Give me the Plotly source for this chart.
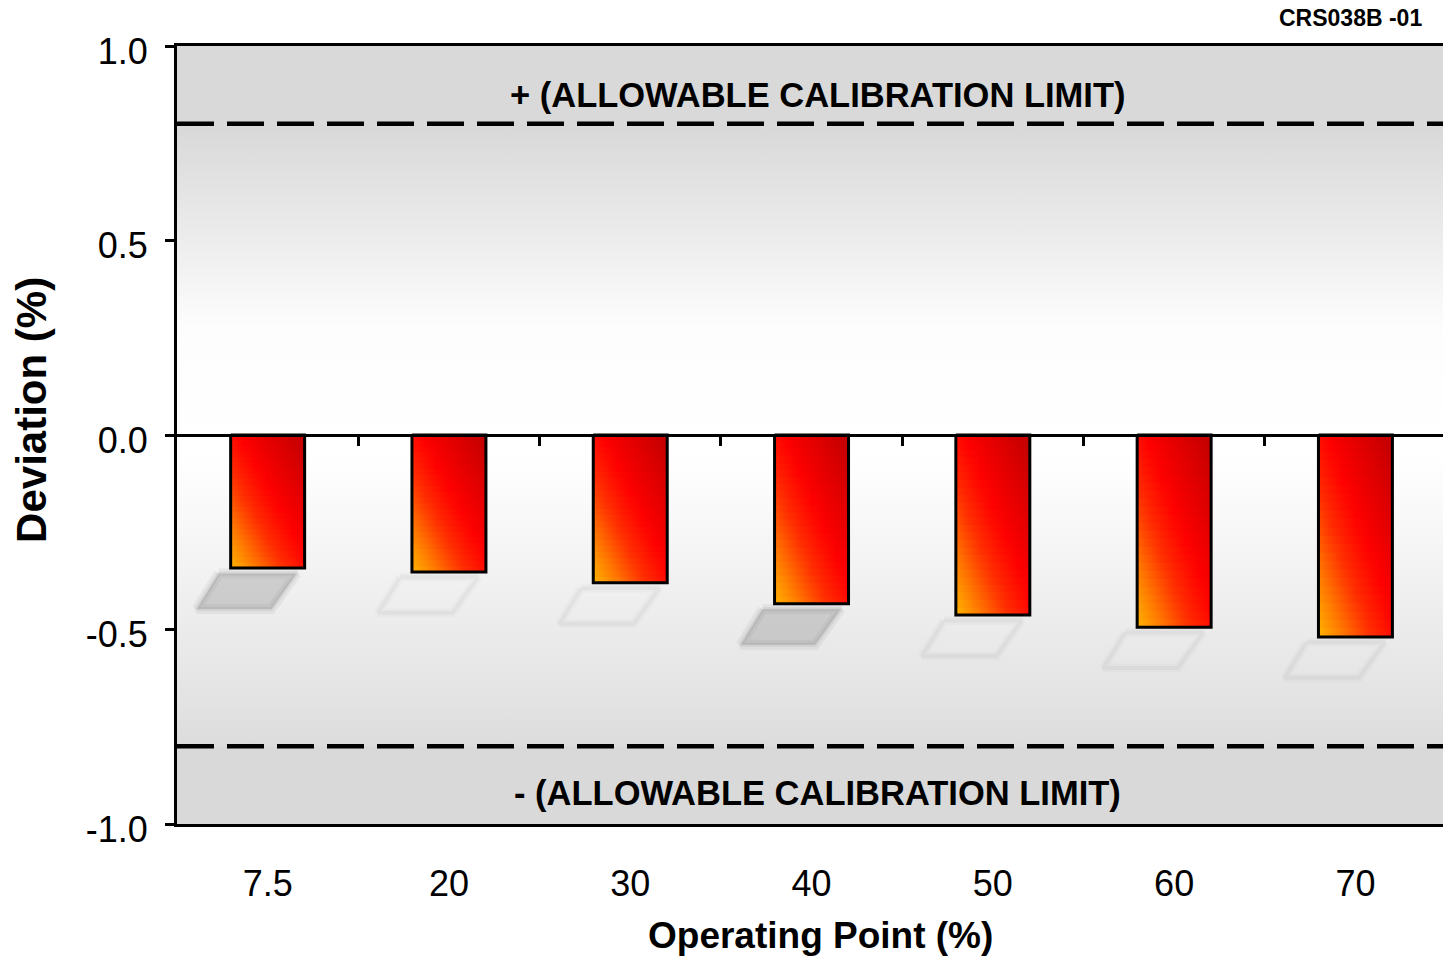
import numpy as np
import plotly.graph_objects as go

# ---------------- data ----------------
categories = ["7.5", "20", "30", "40", "50", "60", "70"]
deviation = [-0.342, -0.352, -0.380, -0.434, -0.463, -0.494, -0.519]
upper_limit = 0.8
lower_limit = -0.8
y_ticks = [-1.0, -0.5, 0.0, 0.5, 1.0]
upper_label = "+ (ALLOWABLE CALIBRATION LIMIT)"
lower_label = "- (ALLOWABLE CALIBRATION LIMIT)"
x_title = "Operating Point (%)"
y_title = "Deviation (%)"
doc_id = "CRS038B -01"

# ---------------- style ----------------
FONT = "Liberation Sans, Arial, Helvetica, sans-serif"
BAR_HALF = 0.204
N_STRIPS = 24
X_RANGE = [-0.5, 6.483]
filled_shadow = {0, 3}

grad_stops = [(0.0, (255, 180, 0)), (0.15, (255, 128, 0)), (0.35, (255, 48, 0)),
              (0.55, (255, 0, 0)), (1.0, (192, 0, 0))]


def grad_color(u):
    u = min(max(u, 0.0), 1.0)
    for (p0, c0), (p1, c1) in zip(grad_stops[:-1], grad_stops[1:]):
        if p0 <= u <= p1:
            f = (u - p0) / (p1 - p0) if p1 > p0 else 0
            c = [round(a + (b - a) * f) for a, b in zip(c0, c1)]
            return f"rgb({c[0]},{c[1]},{c[2]})"
    c = grad_stops[-1][1]
    return f"rgb({c[0]},{c[1]},{c[2]})"


xpos = np.arange(len(categories))
fig = go.Figure()

# background gradient band between the limits
fig.add_trace(go.Scatter(
    x=[X_RANGE[0] - 1, X_RANGE[1] + 1, X_RANGE[1] + 1, X_RANGE[0] - 1, X_RANGE[0] - 1],
    y=[lower_limit, lower_limit, upper_limit, upper_limit, lower_limit],
    mode="lines", line=dict(width=0), fill="toself",
    fillgradient=dict(type="vertical", start=lower_limit, stop=upper_limit,
                      colorscale=[[0.0, "#dcdcdc"], [0.075, "#e3e3e3"], [0.24, "#efefef"],
                                  [0.36, "#f8f8f8"], [0.47, "#ffffff"], [0.67, "#fdfdfd"],
                                  [0.8, "#eeeeee"], [1.0, "#d8d8d8"]]),
    hoverinfo="skip", showlegend=False))

# soft shadows (layered to fake a blur)
for i, (c, v) in enumerate(zip(xpos, deviation)):
    ty, by = v - 0.014, v - 0.105
    sx = [c - 0.27, c + 0.16, c + 0.02, c - 0.39, c - 0.27]
    sy = [ty, ty, by, by, ty]
    if i in filled_shadow:
        fig.add_trace(go.Scatter(x=sx, y=sy, mode="lines",
                                 line=dict(width=10, color="rgba(130,130,130,0.10)"),
                                 hoverinfo="skip", showlegend=False))
        fig.add_trace(go.Scatter(x=sx, y=sy, mode="lines", fill="toself",
                                 fillcolor="rgba(130,130,130,0.32)",
                                 line=dict(width=4, color="rgba(130,130,130,0.15)"),
                                 hoverinfo="skip", showlegend=False))
    else:
        fig.add_trace(go.Scatter(x=sx, y=sy, mode="lines",
                                 line=dict(width=9, color="rgba(0,0,0,0.02)"),
                                 hoverinfo="skip", showlegend=False))
        fig.add_trace(go.Scatter(x=sx, y=sy, mode="lines",
                                 line=dict(width=4, color="rgba(0,0,0,0.03)"),
                                 hoverinfo="skip", showlegend=False))

# bars: diagonal gradient built from horizontal-gradient strips
for c, v in zip(xpos, deviation):
    h = -v
    for k in range(N_STRIPS):
        y0 = v + h * k / N_STRIPS
        y1 = v + h * (k + 1) / N_STRIPS
        if k < N_STRIPS - 1:
            y1 += h * 0.3 / N_STRIPS
        t = (k + 0.5) / N_STRIPS
        cs = [[s, grad_color((s + t) / 2)] for s in np.linspace(0, 1, 7)]
        fig.add_trace(go.Scatter(
            x=[c - BAR_HALF, c + BAR_HALF, c + BAR_HALF, c - BAR_HALF, c - BAR_HALF],
            y=[y0, y0, y1, y1, y0], mode="lines", line=dict(width=0),
            fill="toself", fillgradient=dict(type="horizontal", colorscale=cs),
            hoverinfo="skip", showlegend=False))

# bar outlines (on the overlaid zero-line axis)
for c, v, lab in zip(xpos, deviation, categories):
    fig.add_trace(go.Scatter(
        x=[c - BAR_HALF, c - BAR_HALF, c + BAR_HALF, c + BAR_HALF, c - BAR_HALF],
        y=[0, v, v, 0, 0], mode="lines", line=dict(color="black", width=3),
        xaxis="x2", name=lab, hovertemplate=f"{lab}%: {v:.2f}<extra></extra>",
        showlegend=False))

# limit lines
for yl in (upper_limit, lower_limit):
    fig.add_shape(type="line", xref="paper", x0=0, x1=1, yref="y", y0=yl, y1=yl,
                  line=dict(color="black", width=4.5, dash="37px,13px"))

ann_font = dict(family=FONT, color="black")
fig.add_annotation(text=f"<b>{upper_label}</b>", xref="paper", x=0.506, yref="y", y=0.874,
                   showarrow=False, font=dict(size=34.5, **ann_font), xanchor="center", yanchor="middle")
fig.add_annotation(text=f"<b>{lower_label}</b>", xref="paper", x=0.506, yref="y", y=-0.921,
                   showarrow=False, font=dict(size=34.5, **ann_font), xanchor="center", yanchor="middle")
fig.add_annotation(text=f"<b>{x_title}</b>", xref="paper", x=0.508, yref="paper", y=-0.143,
                   showarrow=False, font=dict(size=37, **ann_font), xanchor="center", yanchor="middle")
fig.add_annotation(text=f"<b>{y_title}</b>", xref="paper", x=-0.1155, yref="paper", y=0.532,
                   showarrow=False, font=dict(size=42, **ann_font), textangle=-90,
                   xanchor="center", yanchor="middle")
fig.add_annotation(text=f"<b>{doc_id}</b>", xref="paper", x=0.985, yref="paper", y=1.036,
                   showarrow=False, font=dict(size=23, **ann_font), xanchor="right", yanchor="middle")

fig.update_layout(
    width=1443, height=956,
    margin=dict(l=177, r=0, t=46, b=132),
    paper_bgcolor="white", plot_bgcolor="#d9d9d9",
    font=dict(family=FONT, color="black"),
    showlegend=False,
    xaxis=dict(range=X_RANGE, tickmode="array", tickvals=list(xpos), ticktext=categories,
               ticks="", showline=True, linecolor="black", linewidth=3, mirror=True,
               showgrid=False, zeroline=False, tickfont=dict(size=36),
               ticklabelstandoff=26),
    xaxis2=dict(overlaying="x", matches="x", anchor="free", position=0.5, side="bottom",
                showline=True, linecolor="black", linewidth=3, ticks="outside",
                tickvals=[p + 0.5 for p in xpos[:-1]], ticklen=9, tickwidth=3,
                tickcolor="black", showticklabels=False, showgrid=False, zeroline=False),
    yaxis=dict(range=[-1, 1], tickmode="array", tickvals=y_ticks,
               ticktext=[f"{v:.1f}" for v in y_ticks], ticks="outside", ticklen=9,
               tickwidth=3, tickcolor="black", showline=True, linecolor="black",
               linewidth=3, showgrid=False, zeroline=False, tickfont=dict(size=36),
               ticklabelstandoff=10, ticklabelshift=5),
)

fig.write_html("out.html")
